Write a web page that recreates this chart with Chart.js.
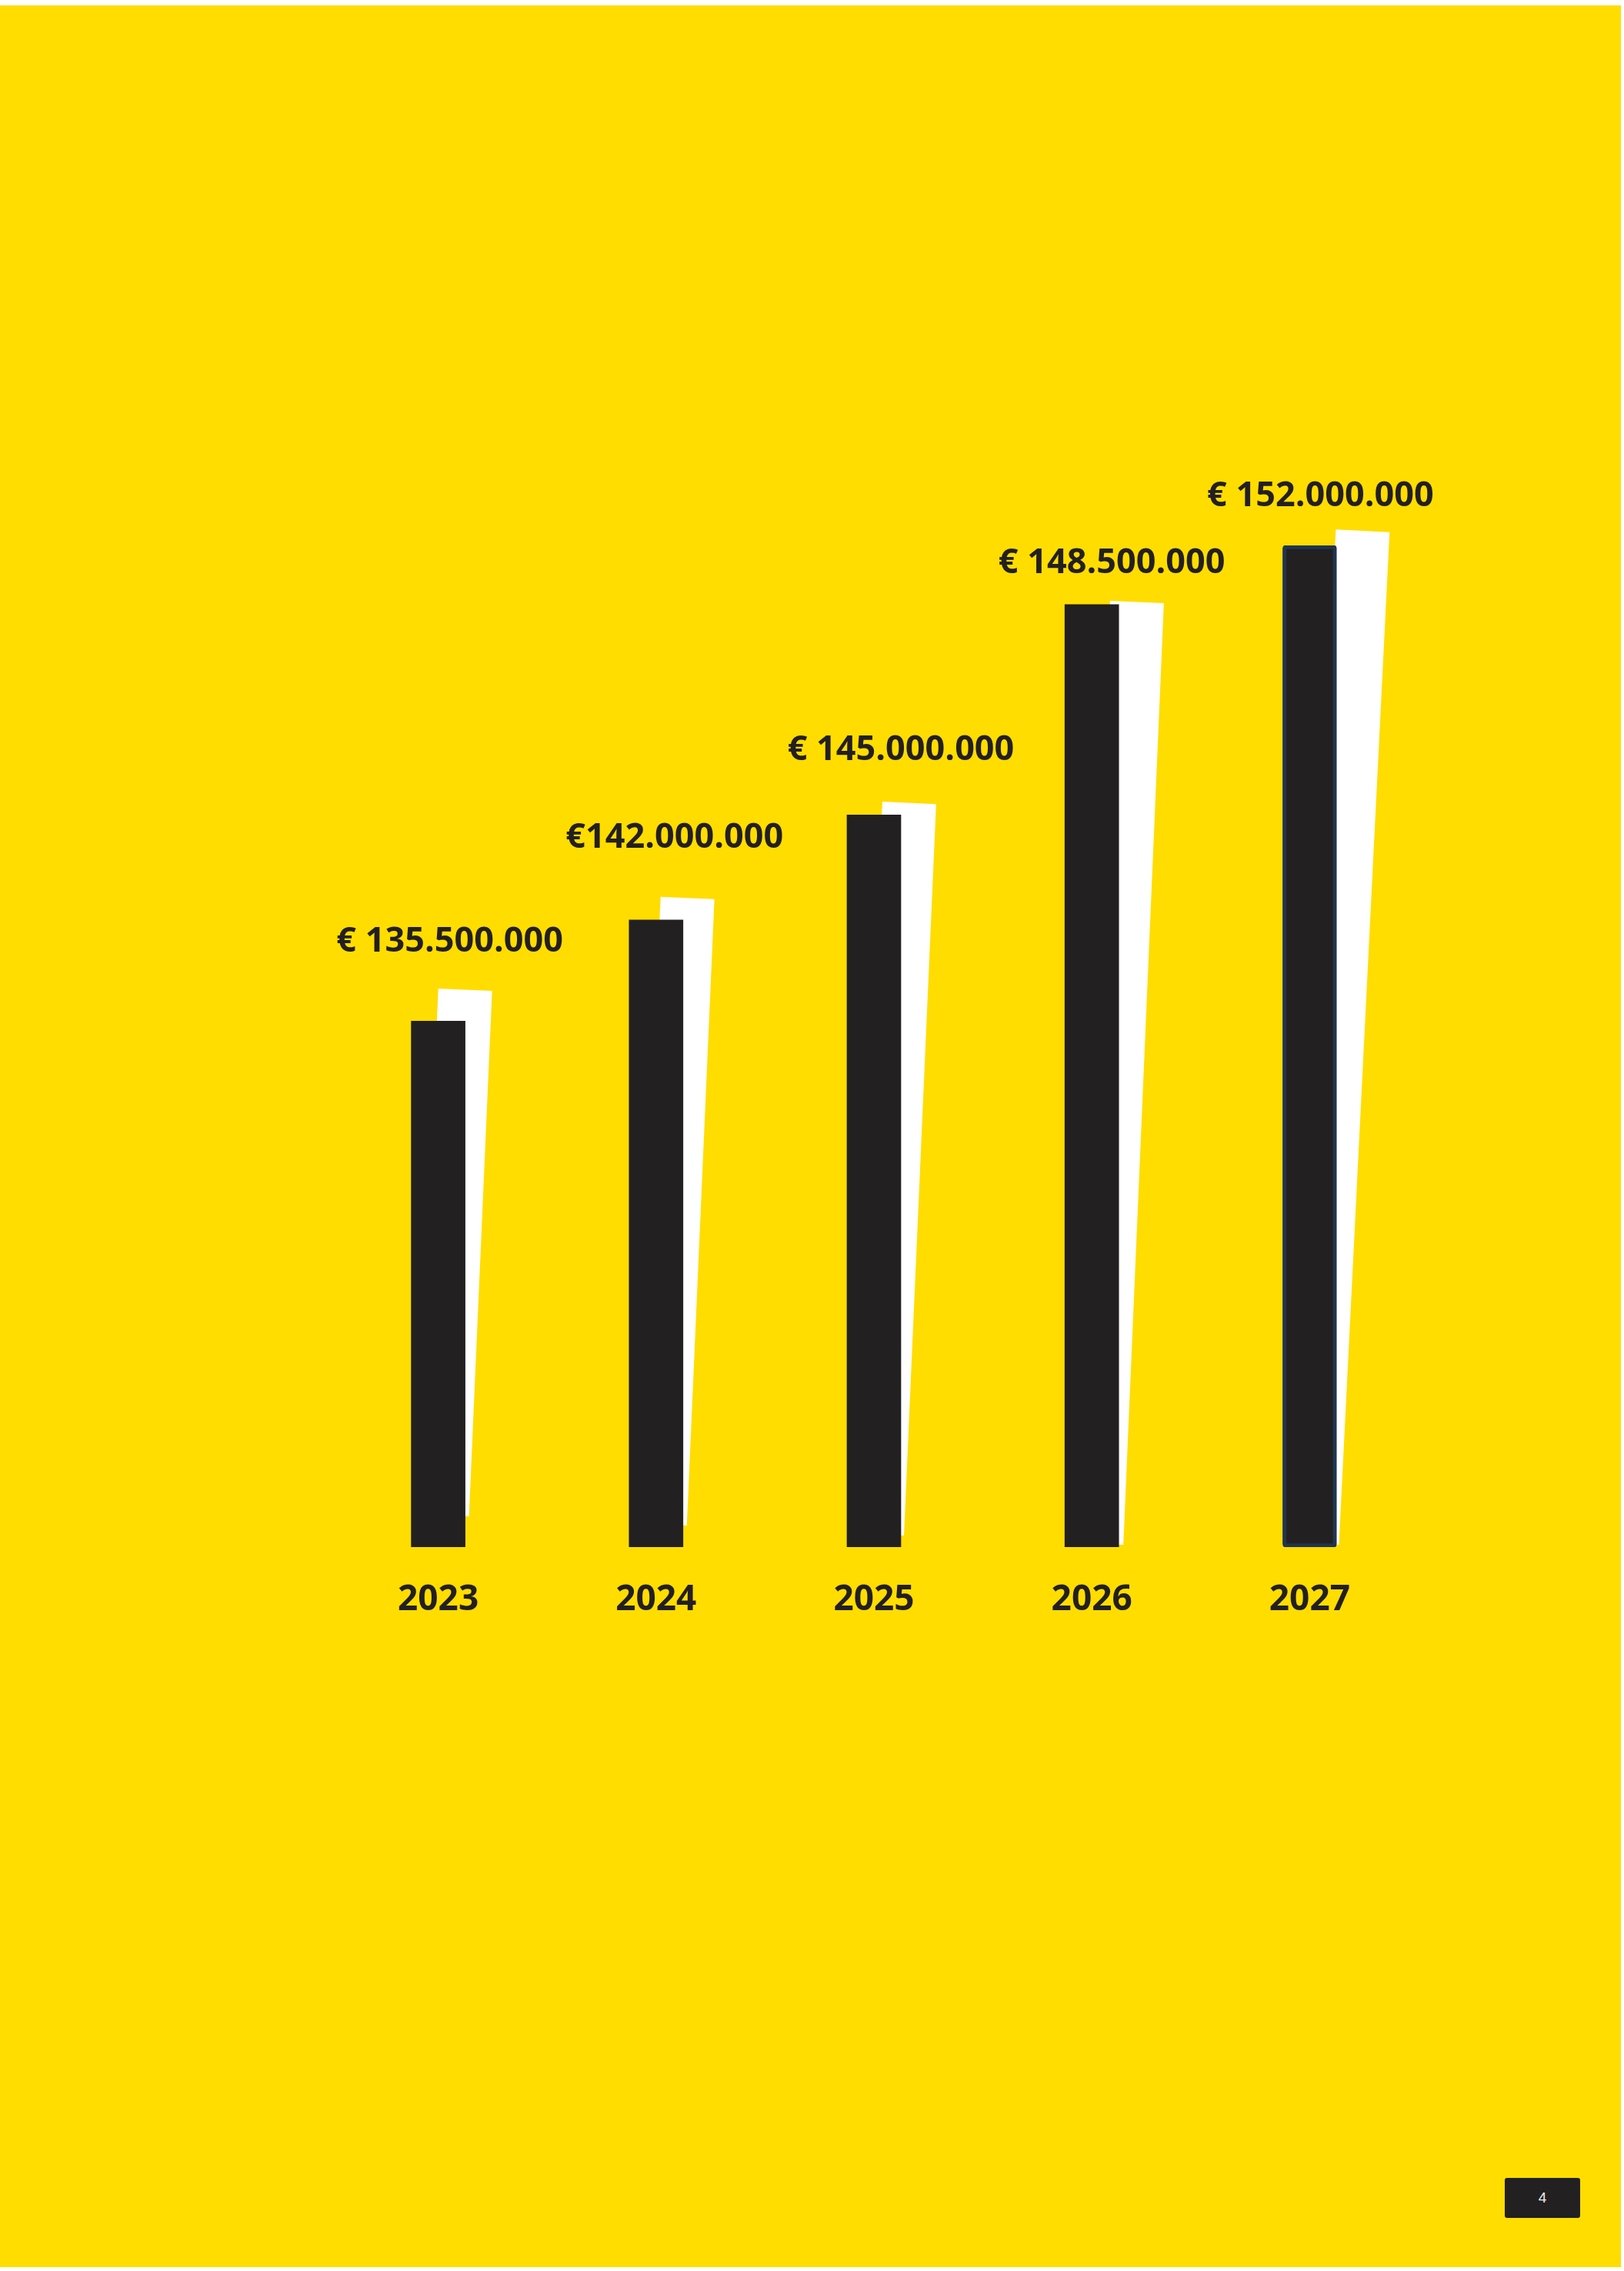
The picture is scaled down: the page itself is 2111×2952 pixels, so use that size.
<!DOCTYPE html>
<html>
<head>
<meta charset="utf-8">
<script src="https://cdn.jsdelivr.net/npm/chart.js@4.4.1/dist/chart.umd.min.js"></script>
<style>
  html, body { margin: 0; padding: 0; background: #ffffff; }
  body { width: 2111px; height: 2952px; position: relative; overflow: hidden; }
  #bg { position: absolute; left: 0; top: 7px; width: 2107px; height: 2940px; background: #FFDD00; }
  #chart { position: absolute; left: 0; top: 0; }
  #page { position: absolute; left: 1956px; top: 2831px; width: 98px; height: 52px; background: #222021;
          border-radius: 3px; color: #eeeeee; font: 19px "Liberation Sans", Arial, sans-serif;
          display: flex; align-items: center; justify-content: center; }
</style>
</head>
<body>
<div id="bg"></div>
<canvas id="chart" width="2111" height="2952"></canvas>
<div id="page">4</div>
<script>
// ---- data ----
const years = ['2023', '2024', '2025', '2026', '2027'];
const amounts = [135500000, 142000000, 145000000, 148500000, 152000000];
const amountLabels = ['€ 135.500.000', '€142.000.000', '€ 145.000.000', '€ 148.500.000', '€ 152.000.000'];
// bar height as drawn in the infographic (index, tallest bar = 100)
const barHeightIndex = [52.5, 62.6, 73.1, 94.1, 100];

const INK = '#231F20';
const BAR = '#222021';

const shadowPlugin = {
  id: 'slantedShadow',
  beforeDatasetsDraw(chart, args, opts) {
    const ctx = chart.ctx;
    const meta = chart.getDatasetMeta(0);
    meta.data.forEach((el, i) => {
      const p = el.getProps(['x', 'y', 'base', 'width'], true);
      const w = p.width;
      const right = p.x + w / 2;
      const px = right + opts.shiftX[i];
      const py = p.base - opts.lift[i];
      const H = (p.base - p.y) + opts.extra[i];
      ctx.save();
      ctx.translate(px, py);
      ctx.rotate(opts.tilt[i]);
      ctx.fillStyle = '#ffffff';
      ctx.fillRect(-w, -H, w, H);
      ctx.restore();
    });
  }
};

const valueLabelPlugin = {
  id: 'valueLabels',
  afterDatasetsDraw(chart, args, opts) {
    const ctx = chart.ctx;
    const meta = chart.getDatasetMeta(0);
    ctx.save();
    ctx.font = 'bold 45px "Open Sans"';
    ctx.fillStyle = INK;
    ctx.textAlign = 'center';
    ctx.textBaseline = 'alphabetic';
    meta.data.forEach((el, i) => {
      const p = el.getProps(['x', 'y'], true);
      ctx.fillText(amountLabels[i], p.x + opts.dx[i], p.y + opts.dy[i]);
    });
    ctx.restore();
  }
};

function build() {
  new Chart(document.getElementById('chart'), {
    type: 'bar',
    data: {
      labels: years,
      datasets: [{
        label: 'Budget',
        data: barHeightIndex,
        backgroundColor: BAR,
        borderColor: ['#222021', '#222021', '#222021', '#222021', '#1F3551'],
        borderWidth: [0, 0, 0, 0, 5],
        borderRadius: [0, 0, 0, 0, 4],
        borderSkipped: false,
        barThickness: 70
      }]
    },
    plugins: [shadowPlugin, valueLabelPlugin],
    options: {
      responsive: false,
      devicePixelRatio: 1,
      animation: false,
      layout: { padding: { left: 428, right: 267, top: 709, bottom: 741 } },
      plugins: {
        legend: { display: false },
        tooltip: { enabled: false },
        slantedShadow: {
          tilt: [0.044, 0.044, 0.044, 0.043, 0.05],
          lift: [40, 28, 15, 3, 3],
          shiftX: [5, 5, 4, 6, 3],
          extra: [0, 0, 0, 0, 16]
        },
        valueLabels: {
          dx: [15, 24, 35, 26, 14],
          dy: [-90, -94, -71, -41, -51]
        }
      },
      scales: {
        x: {
          grid: { display: false, drawTicks: false },
          border: { display: false },
          ticks: {
            color: INK,
            font: { family: '"Open Sans"', weight: 'bold', size: 46 },
            padding: 41
          },
          afterFit(scale) { scale.height = 200; }
        },
        y: {
          display: false,
          min: 0,
          max: 100
        }
      }
    }
  });
}

if (document.fonts && document.fonts.load) {
  Promise.all([
    document.fonts.load('bold 45px "Open Sans"'),
    document.fonts.load('bold 46px "Open Sans"')
  ]).then(build, build);
} else {
  build();
}
</script>
</body>
</html>
